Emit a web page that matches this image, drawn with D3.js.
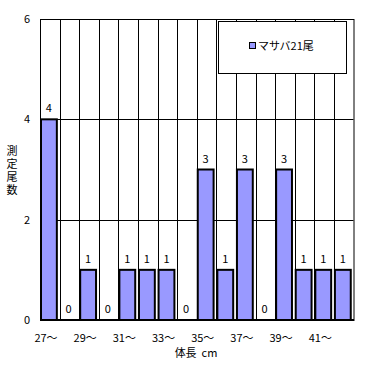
<!DOCTYPE html>
<html>
<head>
<meta charset="utf-8">
<script src="https://cdn.jsdelivr.net/npm/d3@7"></script>
<style>
  body { margin: 0; background: #fff; }
  text { font-family: "Noto Sans CJK JP", sans-serif; font-size: 11px; fill: #000; }
</style>
</head>
<body>
<div id="chart"></div>
<script>
// categories (body length, cm) and counts
const categories = ["27～","28～","29～","30～","31～","32～","33～","34～","35～","36～","37～","38～","39～","40～","41～","42～"];
const counts = [4,0,1,0,1,1,1,0,3,1,3,0,3,1,1,1];
const yTicks = [0, 2, 4, 6];
const seriesName = "マサバ21尾";

const W = 371, H = 365;
const plot = { left: 40, right: 353.5, top: 19, bottom: 320 };
const barFill = "#9999FF";

const svg = d3.select("#chart").append("svg")
  .attr("width", W).attr("height", H);

const x = d3.scaleBand()
  .domain(categories)
  .range([plot.left, plot.right])
  .padding(0);

const y = d3.scaleLinear()
  .domain([0, 6])
  .range([plot.bottom, plot.top]);

const data = categories.map((c, i) => ({ cat: c, value: counts[i] }));

// gridlines
const grid = svg.append("g");
grid.selectAll(".hgrid")
  .data(yTicks.filter(t => t > 0 && t < 6))
  .enter().append("line")
  .attr("x1", plot.left).attr("x2", plot.right)
  .attr("y1", d => Math.round(y(d)) + 0.5).attr("y2", d => Math.round(y(d)) + 0.5)
  .attr("stroke", "#000").attr("stroke-width", 1);

grid.selectAll(".vgrid")
  .data(categories.slice(1))
  .enter().append("line")
  .attr("x1", d => Math.round(x(d)) + 0.5).attr("x2", d => Math.round(x(d)) + 0.5)
  .attr("y1", plot.top).attr("y2", plot.bottom)
  .attr("stroke", "#000").attr("stroke-width", 1);

// plot frame
svg.append("rect")
  .attr("x", plot.left + 0.5).attr("y", plot.top + 0.5)
  .attr("width", plot.right - plot.left).attr("height", plot.bottom - plot.top)
  .attr("fill", "none").attr("stroke", "#000").attr("stroke-width", 1);

// bars
const bw = x.bandwidth() * 0.86;
svg.selectAll(".bar")
  .data(data.filter(d => d.value > 0))
  .enter().append("rect")
  .attr("x", d => x(d.cat) + 1)
  .attr("y", d => y(d.value))
  .attr("width", bw - 1)
  .attr("height", d => y(0) - y(d.value))
  .attr("fill", barFill)
  .attr("stroke", "#000")
  .attr("stroke-width", 2);

// baseline
svg.append("line")
  .attr("x1", plot.left).attr("x2", plot.right + 0.5)
  .attr("y1", plot.bottom).attr("y2", plot.bottom)
  .attr("stroke", "#000").attr("stroke-width", 2);

// value labels
svg.selectAll(".val")
  .data(data)
  .enter().append("text")
  .attr("x", d => x(d.cat) + bw / 2 + 0.5)
  .attr("y", d => y(d.value) - 7)
  .attr("text-anchor", "middle")
  .text(d => d.value);

// y axis tick labels
svg.selectAll(".ytick")
  .data(yTicks)
  .enter().append("text")
  .attr("x", 30)
  .attr("y", d => y(d) + 4)
  .attr("text-anchor", "end")
  .text(d => d);

// x axis tick labels (every other)
svg.selectAll(".xtick")
  .data(categories.filter((c, i) => i % 2 === 0))
  .enter().append("text")
  .attr("x", d => x(d) + 6)
  .attr("y", 342)
  .attr("text-anchor", "middle")
  .text(d => d);

// axis titles
svg.append("text")
  .attr("x", 196).attr("y", 357)
  .attr("text-anchor", "middle")
  .style("white-space", "pre")
  .text("体長  cm");

// vertical (stacked) y title
svg.append("text")
  .attr("x", 12).attr("y", 145)
  .style("writing-mode", "vertical-rl")
  .style("letter-spacing", "2px")
  .text("測定尾数");

// legend
const lg = svg.append("g");
lg.append("rect")
  .attr("x", 218.5).attr("y", 21.5)
  .attr("width", 128).attr("height", 52)
  .attr("fill", "#fff").attr("stroke", "#000").attr("stroke-width", 1);
lg.append("rect")
  .attr("x", 249.5).attr("y", 42.5)
  .attr("width", 6).attr("height", 6)
  .attr("fill", barFill).attr("stroke", "#000").attr("stroke-width", 1);
lg.append("text")
  .attr("x", 258).attr("y", 50)
  .text(seriesName);
</script>
</body>
</html>
